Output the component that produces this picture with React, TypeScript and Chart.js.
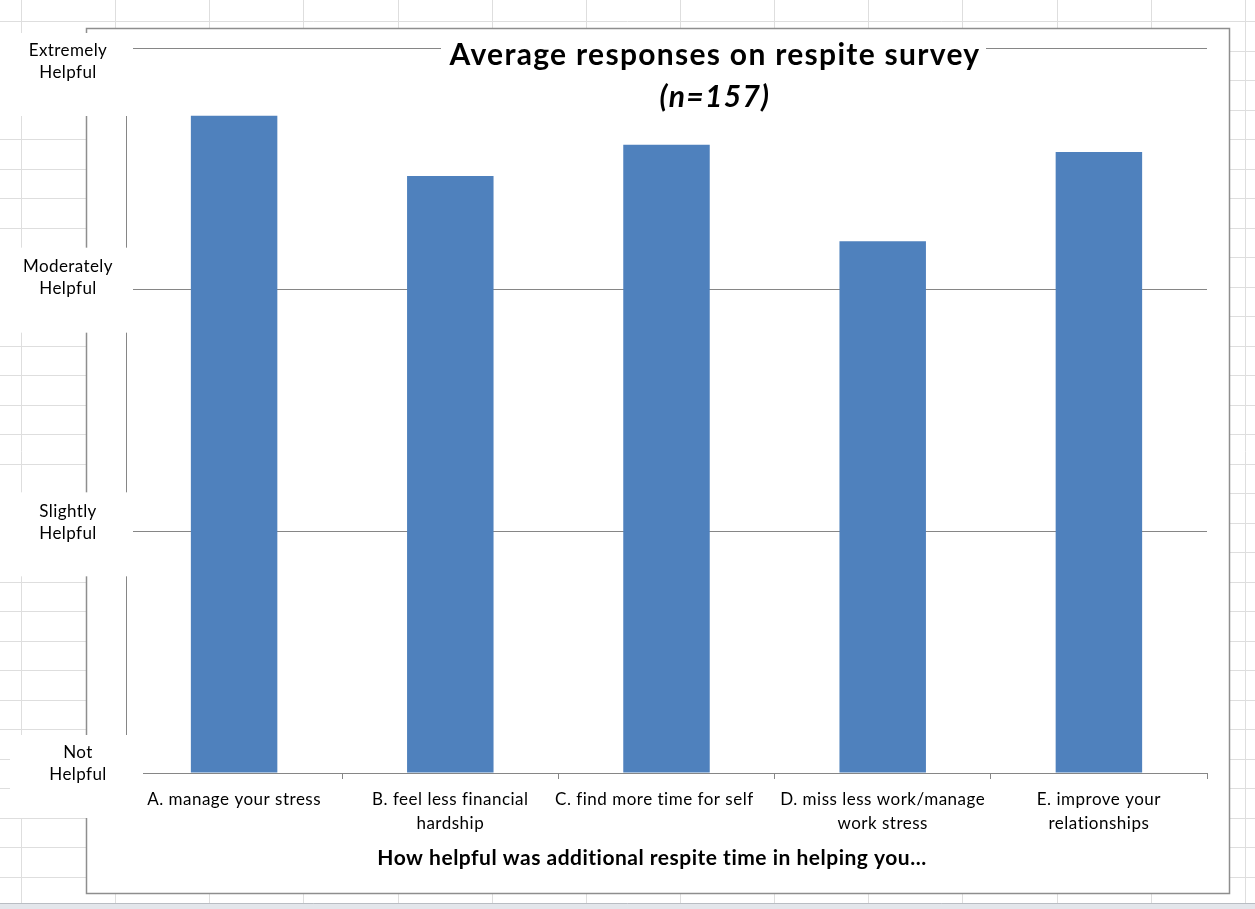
import React, { useEffect, useRef } from 'react';
import { Chart, registerables } from 'chart.js';

Chart.register(...registerables);

// ---- data ----
const categories: string[][] = [
  ['A. manage your stress'],
  ['B. feel less financial', 'hardship'],
  ['C. find more time for self     '],
  ['D. miss less work/manage', 'work stress'],
  ['E. improve your', 'relationships'],
];
const averageResponse = [2.72, 2.47, 2.6, 2.2, 2.57];
const scaleValues = [0, 1, 2, 3];
const scaleLabels: string[][] = [
  ['Not', 'Helpful'],
  ['Slightly', 'Helpful'],
  ['Moderately', 'Helpful'],
  ['Extremely', 'Helpful'],
];
const titleLines = ['Average responses on respite survey', '(n=157)'];
const xAxisTitle = 'How helpful was additional respite time in helping you...';

// ---- layout / style ----
const W = 1255;
const H = 909;
const FONT = 'Lato, "Open Sans", "DejaVu Sans", sans-serif';
const BAR = '#4F81BD';
const AXIS = '#868686';
const SHEET = '#dedede';

// box/label placement per y label, relative to its gridline pixel
const labelBoxes = [
  { top: -38, bottom: 45, x0: 10, x1: 143, cx: 78, dy: -20 },
  { top: -39, bottom: 45, x0: 0, x1: 133, cx: 68, dy: -20 },
  { top: -42, bottom: 43, x0: 0, x1: 133, cx: 68, dy: -23 },
  { top: -15, bottom: 68, x0: 0, x1: 133, cx: 68, dy: 3 },
];

const sheetPlugin = {
  id: 'sheetBackground',
  beforeDraw(chart: any) {
    const ctx = chart.ctx;
    ctx.save();
    ctx.fillStyle = '#ffffff';
    ctx.fillRect(0, 0, W, H);
    // spreadsheet cell grid
    ctx.strokeStyle = SHEET;
    ctx.lineWidth = 1;
    ctx.beginPath();
    for (let x = 21; x < W; x += 94.15) {
      const px = Math.round(x) + 0.5;
      ctx.moveTo(px, 0);
      ctx.lineTo(px, 903);
    }
    for (let y = 21; y < 903; y += 29.5) {
      const py = Math.round(y) + 0.5;
      ctx.moveTo(0, py);
      ctx.lineTo(W, py);
    }
    ctx.stroke();
    // bottom status band
    ctx.fillStyle = '#e3e6eb';
    ctx.fillRect(0, 903, W, H - 903);
    ctx.strokeStyle = '#b9bdc3';
    ctx.beginPath();
    ctx.moveTo(0, 903.5);
    ctx.lineTo(W, 903.5);
    ctx.stroke();
    // chart object box
    ctx.fillStyle = '#ffffff';
    ctx.fillRect(86, 28, 1229 - 86, 893 - 28);
    ctx.strokeStyle = '#8e8e8e';
    ctx.lineWidth = 1.5;
    ctx.strokeRect(86.5, 28.5, 1229 - 86, 893 - 28);
    ctx.restore();
    // slightly wider glyph spacing for axis tick labels (Calibri-like width)
    ctx.letterSpacing = '0.5px';
  },
  afterDraw(chart: any) {
    const ctx = chart.ctx;
    const yScale = chart.scales.y;
    ctx.save();
    // y-axis category labels on white boxes
    ctx.font = `17px ${FONT}`;
    ctx.letterSpacing = '0.4px';
    ctx.textAlign = 'center';
    ctx.textBaseline = 'middle';
    scaleValues.forEach((v, i) => {
      const yv = yScale.getPixelForValue(v);
      const b = labelBoxes[i];
      ctx.fillStyle = '#ffffff';
      ctx.fillRect(b.x0, yv + b.top, b.x1 - b.x0, b.bottom - b.top);
      ctx.fillStyle = '#000000';
      scaleLabels[i].forEach((line, k) => {
        ctx.fillText(line, b.cx, yv + b.dy + k * 22);
      });
    });
    // chart title on white box
    ctx.fillStyle = '#ffffff';
    ctx.fillRect(441, 34, 986 - 441, 80);
    ctx.fillStyle = '#000000';
    ctx.font = `bold 30px ${FONT}`;
    ctx.letterSpacing = '1.3px';
    ctx.fillText(titleLines[0], 715, 55);
    ctx.font = `italic bold 30px ${FONT}`;
    ctx.fillText(titleLines[1], 715, 97);
    // x-axis title
    ctx.font = `bold 21px ${FONT}`;
    ctx.letterSpacing = '0.5px';
    ctx.fillText(xAxisTitle, 652, 858);
    ctx.restore();
    ctx.letterSpacing = '0px';
  },
};

export default function App() {
  const ref = useRef<HTMLCanvasElement | null>(null);

  useEffect(() => {
    if (!ref.current) return;
    const chart = new Chart(ref.current, {
      type: 'bar',
      data: {
        labels: categories,
        datasets: [
          {
            label: 'Average response',
            data: averageResponse,
            backgroundColor: BAR,
            borderWidth: 0,
            categoryPercentage: 1,
            barPercentage: 0.4,
          },
        ],
      },
      options: {
        responsive: false,
        animation: false,
        devicePixelRatio: 1,
        layout: { padding: { left: 0, top: 48, right: 48, bottom: 0 } },
        plugins: {
          legend: { display: false },
          title: { display: false },
          tooltip: { enabled: false },
        },
        scales: {
          x: {
            offset: true,
            grid: {
              offset: true,
              drawOnChartArea: false,
              drawTicks: true,
              tickLength: 6,
              color: AXIS,
            },
            border: { display: true, color: AXIS, width: 1 },
            ticks: {
              color: '#000000',
              font: { family: FONT, size: 17, lineHeight: 1.42 },
              padding: 8,
              maxRotation: 0,
              autoSkip: false,
            },
            afterFit(scale: any) {
              scale.height = 136;
            },
          },
          y: {
            min: 0,
            max: 3,
            ticks: { stepSize: 1, display: false },
            grid: { color: AXIS, drawTicks: false, lineWidth: 1 },
            border: { display: true, color: AXIS, width: 1 },
            afterFit(scale: any) {
              scale.width = 126;
            },
          },
        },
      },
      plugins: [sheetPlugin],
    });
    return () => chart.destroy();
  }, []);

  return (
    <div style={{ position: 'absolute', left: 0, top: 0, width: W, height: H }}>
      <canvas ref={ref} width={W} height={H} style={{ display: 'block', width: W, height: H }} />
    </div>
  );
}
